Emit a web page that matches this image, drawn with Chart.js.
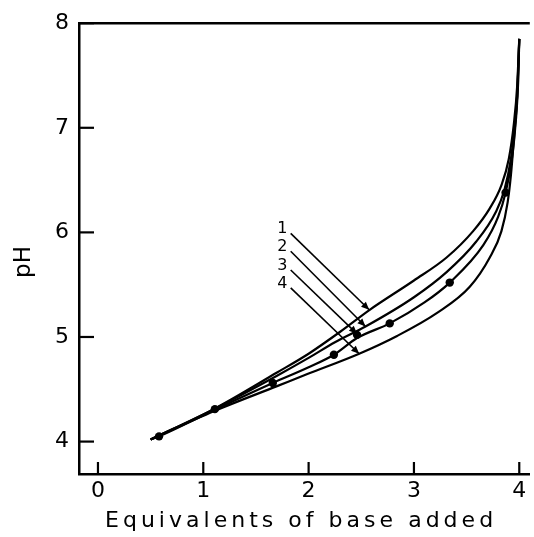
<!DOCTYPE html>
<html>
<head>
<meta charset="utf-8">
<script src="https://cdn.jsdelivr.net/npm/chart.js@4.4.1/dist/chart.umd.min.js"></script>
<style>
html,body{margin:0;padding:0;background:#fff;}
#wrap{width:534px;height:537px;position:relative;}
</style>
</head>
<body>
<div id="wrap"><canvas id="c" width="534" height="537"></canvas></div>
<script>
// ---- data ----
const xTickValues = [0, 1, 2, 3, 4];
const yTickValues = [4, 5, 6, 7, 8];
const xTitle = "Equivalents of base added";
const yTitle = "pH";

const curve1 = [[0.5,4.02],[1.1,4.31],[1.7,4.66],[2.0,4.84],[2.3,5.05],[2.58,5.26],[3.0,5.54],[3.31,5.76],[3.56,6.01],[3.72,6.23],[3.83,6.45],[3.9,6.7],[3.95,7.05],[3.98,7.4],[4.0,7.85]];
const curve2 = [[0.5,4.02],[1.1,4.31],[1.7,4.63],[2.0,4.80],[2.25,4.95],[2.54,5.10],[3.0,5.38],[3.31,5.62],[3.59,5.91],[3.78,6.20],[3.86,6.41],[3.92,6.7],[3.96,7.05],[3.985,7.4],[4.0,7.85]];
const curve3 = [[0.5,4.02],[0.58,4.05],[1.1,4.30],[1.66,4.56],[2.0,4.71],[2.24,4.83],[2.46,4.99],[2.77,5.13],[3.1,5.33],[3.34,5.52],[3.66,5.88],[3.8,6.15],[3.87,6.38],[3.93,6.7],[3.97,7.1],[3.99,7.45],[4.0,7.85]];
const curve4 = [[0.5,4.02],[1.1,4.29],[1.7,4.53],[2.0,4.65],[2.48,4.84],[2.84,5.01],[3.22,5.23],[3.53,5.48],[3.72,5.76],[3.83,6.01],[3.89,6.29],[3.92,6.54],[3.95,6.9],[3.98,7.3],[4.0,7.85]];
const dots = [[0.58,4.05],[1.11,4.31],[1.66,4.56],[2.24,4.83],[2.46,5.02],[2.77,5.13],[3.34,5.52],[3.87,6.38]];

const arrowLabels = ["1","2","3","4"];
const arrowLabelPos = [[1.75,6.03],[1.75,5.86],[1.75,5.68],[1.75,5.51]];
const arrowStart = [[1.83,5.99],[1.83,5.82],[1.83,5.64],[1.83,5.47]];
const arrowEnd = [[2.575,5.26],[2.54,5.10],[2.46,5.03],[2.48,4.84]];

const toXY = a => a.map(p => ({x:p[0], y:p[1]}));

const FONT = "'DejaVu Sans', sans-serif";

const curveDs = (d) => ({
  data: toXY(d), showLine: true, borderColor:'#000', borderWidth:2.2,
  pointRadius:0, cubicInterpolationMode:'monotone', fill:false
});

const datasets = [curveDs(curve1), curveDs(curve2), curveDs(curve3), curveDs(curve4),
  { data: toXY(dots), showLine:false, pointRadius:4.2, pointBackgroundColor:'#000', pointBorderColor:'#000', pointBorderWidth:0 }
];
arrowStart.forEach((s,i)=>{
  datasets.push({ data: toXY([s, arrowEnd[i]]), showLine:true, borderColor:'#000', borderWidth:1.6, pointRadius:0, tension:0 });
});

const decor = {
  id:'decor',
  afterDraw(chart){
    const {ctx, chartArea:ca, scales:{x, y}} = chart;
    ctx.save();
    ctx.strokeStyle='#000';
    ctx.fillStyle='#000';
    // frame top line
    ctx.lineWidth=2.5;
    ctx.beginPath(); ctx.moveTo(ca.left, y.getPixelForValue(8)); ctx.lineTo(ca.right, y.getPixelForValue(8)); ctx.stroke();
    // inner ticks
    ctx.lineWidth=2.2;
    xTickValues.forEach(v=>{
      const px = x.getPixelForValue(v);
      ctx.beginPath(); ctx.moveTo(px, ca.bottom); ctx.lineTo(px, ca.bottom-12); ctx.stroke();
    });
    yTickValues.forEach(v=>{
      const py = y.getPixelForValue(v);
      ctx.beginPath(); ctx.moveTo(ca.left, py); ctx.lineTo(ca.left+15, py); ctx.stroke();
    });
    // arrowheads
    arrowStart.forEach((s,i)=>{
      const x0=x.getPixelForValue(s[0]), y0=y.getPixelForValue(s[1]);
      const x1=x.getPixelForValue(arrowEnd[i][0]), y1=y.getPixelForValue(arrowEnd[i][1]);
      const ang=Math.atan2(y1-y0, x1-x0);
      const L=8, W=3.5;
      ctx.beginPath();
      ctx.moveTo(x1,y1);
      ctx.lineTo(x1-L*Math.cos(ang)+W*Math.sin(ang), y1-L*Math.sin(ang)-W*Math.cos(ang));
      ctx.lineTo(x1-L*Math.cos(ang)-W*Math.sin(ang), y1-L*Math.sin(ang)+W*Math.cos(ang));
      ctx.closePath(); ctx.fill();
    });
    // arrow labels
    ctx.font = "16px " + FONT;
    ctx.textAlign='center'; ctx.textBaseline='middle';
    arrowLabels.forEach((t,i)=>{
      ctx.fillText(t, x.getPixelForValue(arrowLabelPos[i][0]), y.getPixelForValue(arrowLabelPos[i][1]));
    });
    // x title with letter spacing
    ctx.font = "22px " + FONT;
    ctx.letterSpacing = '0px';
    const w0 = ctx.measureText(xTitle).width;
    const target = 388;
    const sp = (target - w0) / (xTitle.length - 1);
    ctx.letterSpacing = sp.toFixed(2) + 'px';
    ctx.textAlign='left'; ctx.textBaseline='middle';
    ctx.fillText(xTitle, 105, 521);
    ctx.letterSpacing = '0px';
    // y title
    ctx.translate(24, 262);
    ctx.rotate(-Math.PI/2);
    ctx.textAlign='center';
    ctx.font = "23px " + FONT;
    ctx.fillText(yTitle, 0, 0);
    ctx.restore();
  }
};

new Chart(document.getElementById('c'), {
  type:'scatter',
  data:{ datasets },
  options:{
    responsive:false, animation:false, devicePixelRatio:1,
    layout:{ padding:{ top:14, right:0, left:0, bottom:0 } },
    plugins:{ legend:{display:false}, tooltip:{enabled:false} },
    scales:{
      x:{
        type:'linear', min:-0.18, max:4.1,
        afterBuildTicks: s => { s.ticks = xTickValues.map(v=>({value:v})); },
        afterFit: s => { s.height = 63; },
        grid:{ display:true, drawOnChartArea:false, drawTicks:false },
        border:{ display:true, color:'#000', width:2.5 },
        ticks:{ color:'#000', font:{ family:FONT, size:22 }, padding:4, maxRotation:0 }
      },
      y:{
        type:'linear', min:3.69, max:8,
        afterBuildTicks: s => { s.ticks = yTickValues.map(v=>({value:v})); },
        afterFit: s => { s.width = 79; },
        grid:{ display:true, drawOnChartArea:false, drawTicks:false },
        border:{ display:true, color:'#000', width:2.5 },
        ticks:{ color:'#000', font:{ family:FONT, size:22 }, padding:10 }
      }
    }
  },
  plugins:[decor]
});
</script>
</body>
</html>
